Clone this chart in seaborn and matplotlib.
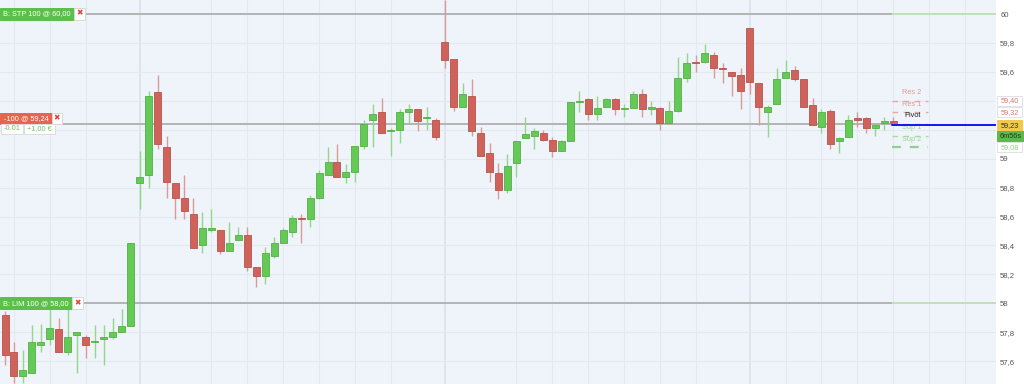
import matplotlib
matplotlib.use("Agg")
import matplotlib.pyplot as plt
import matplotlib.transforms as mtransforms
from matplotlib.patches import Rectangle
import numpy as np
import pandas as pd
import seaborn as sns

# ---------------- data ----------------
opens = [57.92, 57.66, 57.50, 57.52, 57.71, 57.75, 57.82, 57.66, 57.78, 57.77,
         57.73, 57.75, 57.77, 57.80, 57.84, 58.83, 58.89, 59.46, 59.08, 58.83,
         58.73, 58.62, 58.40, 58.51, 58.51, 58.36, 58.44, 58.47, 58.25, 58.19,
         58.33, 58.42, 58.49, 58.59, 58.58, 58.73, 58.89, 58.98, 58.87, 58.91,
         59.09, 59.27, 59.32, 59.19, 59.20, 59.32, 59.34, 59.28, 59.27, 59.81,
         59.69, 59.36, 59.43, 59.18, 59.04, 58.90, 58.78, 58.97, 59.14, 59.16,
         59.18, 59.13, 59.05, 59.12, 59.39, 59.41, 59.31, 59.36, 59.41, 59.34,
         59.35, 59.45, 59.34, 59.35, 59.25, 59.33, 59.56, 59.67, 59.67, 59.72,
         59.63, 59.60, 59.58, 59.90, 59.52, 59.32, 59.38, 59.56, 59.61, 59.55,
         59.37, 59.22, 59.33, 59.12, 59.15, 59.28, 59.28, 59.21, 59.25, 59.26]
highs = [57.95, 57.73, 57.68, 57.85, 57.86, 58.02, 57.90, 58.02, 57.80, 57.78,
         57.85, 57.85, 57.90, 57.96, 58.42, 59.05, 59.47, 59.58, 59.16, 58.83,
         58.89, 58.73, 58.63, 58.65, 58.51, 58.56, 58.53, 58.53, 58.25, 58.39,
         58.46, 58.52, 58.61, 58.62, 58.75, 58.92, 59.08, 59.10, 58.96, 59.09,
         59.27, 59.38, 59.42, 59.21, 59.34, 59.38, 59.34, 59.36, 59.28, 60.10,
         59.69, 59.52, 59.55, 59.22, 59.11, 58.97, 59.03, 59.12, 59.29, 59.21,
         59.20, 59.15, 59.13, 59.39, 59.47, 59.42, 59.43, 59.42, 59.42, 59.38,
         59.47, 59.48, 59.40, 59.36, 59.40, 59.70, 59.73, 59.72, 59.79, 59.74,
         59.66, 59.60, 59.63, 59.90, 59.52, 59.37, 59.63, 59.68, 59.64, 59.55,
         59.42, 59.34, 59.34, 59.15, 59.30, 59.32, 59.29, 59.24, 59.29, 59.29]
lows = [57.57, 57.45, 57.45, 57.52, 57.66, 57.71, 57.66, 57.64, 57.52, 57.62,
        57.62, 57.57, 57.75, 57.80, 57.84, 58.65, 58.80, 59.07, 58.73, 58.58,
        58.58, 58.38, 58.35, 58.49, 58.34, 58.36, 58.44, 58.22, 58.11, 58.13,
        58.31, 58.42, 58.46, 58.42, 58.53, 58.72, 58.89, 58.87, 58.83, 58.84,
        59.07, 59.08, 59.18, 59.02, 59.11, 59.25, 59.19, 59.20, 59.13, 59.63,
        59.33, 59.36, 59.16, 59.02, 58.84, 58.72, 58.76, 58.87, 59.14, 59.07,
        59.12, 59.01, 59.05, 59.12, 59.32, 59.27, 59.27, 59.36, 59.30, 59.29,
        59.35, 59.29, 59.30, 59.20, 59.25, 59.32, 59.53, 59.60, 59.66, 59.56,
        59.52, 59.43, 59.34, 59.45, 59.23, 59.15, 59.38, 59.56, 59.54, 59.36,
        59.23, 59.18, 59.07, 59.04, 59.15, 59.22, 59.18, 59.16, 59.20, 59.24]
closes = [57.64, 57.50, 57.54, 57.73, 57.73, 57.83, 57.66, 57.77, 57.80, 57.71,
          57.74, 57.77, 57.80, 57.84, 58.42, 58.87, 59.43, 59.10, 58.84, 58.73,
          58.64, 58.38, 58.52, 58.52, 58.36, 58.42, 58.47, 58.25, 58.19, 58.35,
          58.42, 58.51, 58.59, 58.58, 58.73, 58.90, 58.98, 58.87, 58.91, 59.09,
          59.24, 59.31, 59.18, 59.20, 59.32, 59.34, 59.26, 59.29, 59.15, 59.68,
          59.36, 59.45, 59.19, 59.02, 58.91, 58.78, 58.95, 59.12, 59.17, 59.19,
          59.13, 59.05, 59.12, 59.39, 59.40, 59.31, 59.35, 59.41, 59.34, 59.34,
          59.45, 59.34, 59.36, 59.25, 59.33, 59.56, 59.66, 59.66, 59.73, 59.63,
          59.62, 59.57, 59.47, 59.53, 59.36, 59.36, 59.55, 59.60, 59.55, 59.36,
          59.23, 59.32, 59.10, 59.14, 59.27, 59.27, 59.21, 59.23, 59.26, 59.25]

stop_level = 60.00
limit_level = 58.00
position_level = 59.24
last_price = 59.23
timer_text = "6m56s"
stop_label = "B: STP 100 @ 60,00"
limit_label = "B: LIM 100 @ 58,00"
position_label = "-100 @ 59,24"
pl_labels = ["-0.01", "+1,00 €"]
pivot_names = ["Res 2", "Res 1", "Pivot", "Sup 1", "Sup 2"]
pivot_values = [59.40, 59.32, 59.24, 59.16, 59.08]
price_ticks = [57.6, 57.8, 58.0, 58.2, 58.4, 58.6, 58.8, 59.0, 59.2, 59.4, 59.6, 59.8, 60.0]
hidden_tick_labels = [59.2, 59.4]   # covered by the price flags in the reference
grid_candles = [1, 5, 9, 23, 27, 31, 35, 39, 43, 57, 61, 65, 69, 73, 77, 87, 91, 95, 99, 103, 107]
session_candles = [15, 49, 83]

df = pd.DataFrame({"open": opens, "high": highs, "low": lows, "close": closes})
df["idx"] = np.arange(len(df))
df["up"] = df["close"] >= df["open"]

# ---------------- style ----------------
sns.set_theme(style="whitegrid")
plt.rcParams["font.family"] = ["Liberation Sans", "DejaVu Sans"]

W, H = 1024, 384
fig = plt.figure(figsize=(W / 100, H / 100), dpi=100, facecolor="#ffffff")
ax = fig.add_axes([0, 0, 996 / W, 1])
BG = "#eff4fb"
GRID = "#e3e9f1"
ax.set_facecolor(BG)

XMIN, XMAX = -0.56, 110.45
YMIN, YMAX = 57.442, 60.097
ax.set_xlim(XMIN, XMAX)
ax.set_ylim(YMIN, YMAX)
px_per_unit = H / (YMAX - YMIN)

# grid
ax.grid(False)
for g in grid_candles:
    ax.axvline(g, color=GRID, lw=0.8, zorder=0)
for g in session_candles:
    ax.axvline(g, color="#dde3ec", lw=1.3, zorder=0)
for t in price_ticks:
    ax.axhline(t, color=GRID, lw=0.8, zorder=0)

for s in ax.spines.values():
    s.set_visible(False)

ax.set_xticks([])
ax.yaxis.tick_right()
ax.set_yticks(price_ticks)
ax.set_yticklabels(["" if any(abs(t - h) < 1e-9 for h in hidden_tick_labels)
                    else ("%g" % round(t, 1)).replace(".", ",") for t in price_ticks])
ax.tick_params(axis="y", length=0, pad=3, labelsize=5.6, labelcolor="#555555")

# order lines
split = 98.9
for lvl in (stop_level, limit_level):
    ax.hlines(lvl, XMIN, split, color="#b4b4b4", lw=1.4, zorder=1)
    ax.hlines(lvl, split, XMAX, color="#bfe0b8", lw=1.4, zorder=1)
ax.hlines(position_level, XMIN, split, color="#b4b4b4", lw=1.4, zorder=1)

# candles
G_FILL, G_EDGE, G_WICK = "#64c955", "#52b046", "#93d88a"
R_FILL, R_EDGE, R_WICK = "#cf635c", "#b9524c", "#dc9a95"
wick_colors = [G_WICK if u else R_WICK for u in df["up"]]
ax.vlines(df["idx"], df["low"], df["high"], colors=wick_colors, lw=1.0, zorder=2)
body_lo = np.minimum(df["open"], df["close"])
body_h = np.maximum((df["close"] - df["open"]).abs(), 0.009)
ax.bar(df["idx"], body_h, bottom=body_lo, width=0.78,
       color=[G_FILL if u else R_FILL for u in df["up"]],
       edgecolor=[G_EDGE if u else R_EDGE for u in df["up"]],
       linewidth=0.6, zorder=3)

# pivot levels
piv_colors = ["#eba8a2", "#eba8a2", "#c8c8c8", "#a8dca0", "#8fd486"]
piv_text_colors = ["#e39a94", "#e39a94", "#222222", "#9ad891", "#9ad891"]
for name, val, c, tc in zip(pivot_names, pivot_values, piv_colors, piv_text_colors):
    lw = 1.6 if name == "Sup 2" else 1.0
    ax.hlines(val, split, 102.9, color=c, lw=lw, linestyles=(0, (4, 4)), zorder=4)
    ax.text(101.1, val + 8 / px_per_unit, name, ha="center", va="center",
            fontsize=5.3, color=tc, zorder=5)

# last price line
sns.lineplot(x=[split, XMAX], y=[last_price, last_price], ax=ax, color="#1515f0",
             lw=1.4, zorder=6)

# ---------------- labels ----------------
trans = mtransforms.blended_transform_factory(fig.transFigure, ax.transData)


def box(x0, w, yval, hpx, text, fc, tc, ec=None, fs=5.3, dy=0.0, weight="normal"):
    hu = hpx / px_per_unit
    yc = yval + dy / px_per_unit
    ax.add_patch(Rectangle((x0 / W, yc - hu / 2), w / W, hu, transform=trans,
                           facecolor=fc, edgecolor=ec or fc, lw=0.7,
                           clip_on=False, zorder=20))
    ax.text((x0 + w / 2) / W, yc, text, transform=trans, ha="center", va="center",
            color=tc, fontsize=fs, zorder=21, clip_on=False, weight=weight)


GREEN_BOX = "#5dbf4b"
XCOL = "#e0443a"
box(0, 74, stop_level, 12, stop_label, GREEN_BOX, "white")
box(74, 11, stop_level, 12, "✖", "white", XCOL, ec="#d8d8d8", fs=5.5)
box(0, 72, limit_level, 12, limit_label, GREEN_BOX, "white")
box(72, 11, limit_level, 12, "✖", "white", XCOL, ec="#d8d8d8", fs=5.5)
box(0, 52, position_level, 11, position_label, "#e8644f", "white", dy=5.5)
box(52, 10, position_level, 11, "✖", "white", XCOL, ec="#d8d8d8", fs=5.5, dy=5.5)
box(1, 22, position_level, 10, pl_labels[0], "white", "#6cc45c", ec="#dcdcdc", dy=-5)
box(24, 31, position_level, 10, pl_labels[1], "white", "#6cc45c", ec="#dcdcdc", dy=-5)

fmt = lambda v: ("%.2f" % v).replace(".", ",")
box(997, 25, pivot_values[0], 10, fmt(pivot_values[0]), "white", "#e07a72", ec="#e2e2e2")
box(997, 25, pivot_values[1], 10, fmt(pivot_values[1]), "white", "#e07a72", ec="#e2e2e2")
box(997, 25, last_price, 11, fmt(last_price), "#f2c94c", "#333333")
box(997, 27, last_price, 10, timer_text, "#5cb84f", "#1f3a1c", dy=-11)
box(997, 25, pivot_values[4], 10, fmt(pivot_values[4]), "white", "#8fd486", ec="#e2e2e2")

fig.savefig("out.png", dpi=100, facecolor=fig.get_facecolor())
